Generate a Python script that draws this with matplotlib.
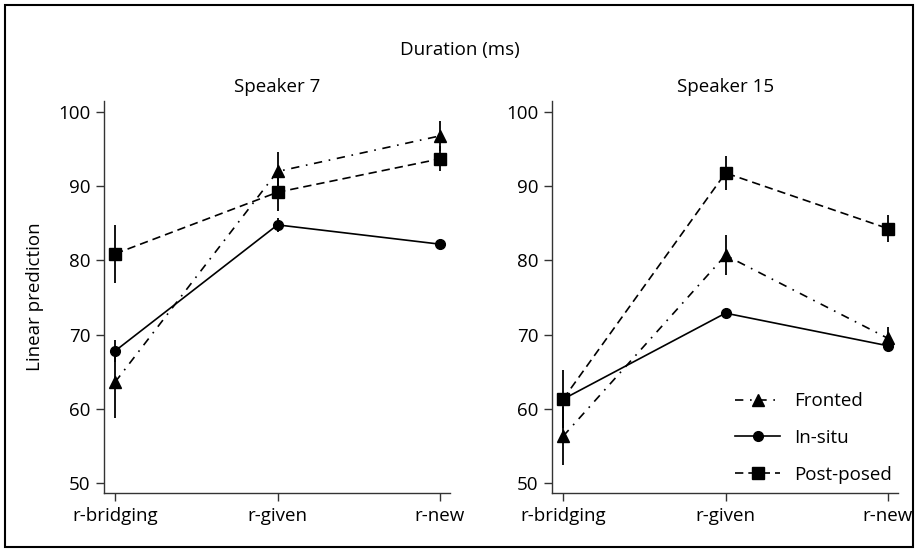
import numpy as np
import matplotlib.pyplot as plt
from matplotlib.patches import Rectangle

plt.rcParams['font.family'] = ['Open Sans', 'DejaVu Sans']

categories = ['r-bridging', 'r-given', 'r-new']
speakers = ['Speaker 7', 'Speaker 15']

# linear predictions and CI half-widths per speaker
fronted = [[63.6, 92.0, 96.8], [56.3, 80.7, 69.5]]
fronted_err = [[4.8, 2.6, 2.0], [3.9, 2.7, 1.5]]
insitu = [[67.8, 84.8, 82.2], [61.3, 72.9, 68.5]]
insitu_err = [[1.5, 0.9, 0.7], [0.9, 0.7, 0.6]]
postposed = [[80.9, 89.2, 93.7], [61.3, 91.8, 84.3]]
postposed_err = [[3.9, 2.5, 1.7], [3.9, 2.3, 1.8]]

series = [
    ('Fronted', fronted, fronted_err, '^', 9, (0, (5, 4, 1, 4))),
    ('In-situ', insitu, insitu_err, 'o', 7, '-'),
    ('Post-posed', postposed, postposed_err, 's', 8.5, (0, (5, 3))),
]

fs = 13.5

fig = plt.figure(figsize=(9.19, 5.55), dpi=100)
axes = [fig.add_axes([0.1132, 0.1117, 0.3765, 0.7063]),
        fig.add_axes([0.6007, 0.1117, 0.3765, 0.7063])]

x = np.arange(len(categories))
for i, ax in enumerate(axes):
    for label, vals, errs, mk, ms, ls in series:
        ax.errorbar(x, vals[i], yerr=errs[i], fmt='none', ecolor='black',
                    elinewidth=1.3, capsize=0)
        ax.plot(x, vals[i], color='black', linestyle=ls, linewidth=1.2,
                marker=mk, markersize=ms, label=label)
    ax.set_xlim(-0.068, 2.062)
    ax.set_ylim(48.65, 101.5)
    ax.set_xticks(x)
    ax.set_xticklabels(categories)
    ax.set_yticks([50, 60, 70, 80, 90, 100])
    ax.spines['top'].set_visible(False)
    ax.spines['right'].set_visible(False)
    for s in ['left', 'bottom']:
        ax.spines[s].set_color('#333333')
        ax.spines[s].set_linewidth(1.0)
    ax.tick_params(direction='out', length=6, width=1, color='#333333',
                   labelsize=fs, pad=4)

axes[0].set_ylabel('Linear prediction', fontsize=fs, labelpad=10)

leg = axes[1].legend(loc='lower left', bbox_to_anchor=(0.529, 0.024),
                     frameon=False, fontsize=fs, handlelength=2.4,
                     labelspacing=1.0, handletextpad=0.75,
                     borderpad=0, borderaxespad=0)

fig.text(460 / 919, 1 - 50 / 555, 'Duration (ms)', ha='center', va='center',
         fontsize=fs)
fig.text(277 / 919, 1 - 87 / 555, speakers[0], ha='center', va='center',
         fontsize=fs)
fig.text(726 / 919, 1 - 87 / 555, speakers[1], ha='center', va='center',
         fontsize=fs)

# outer frame
fig.patches.append(Rectangle((5 / 919, 8 / 555), 908 / 919, 542 / 555,
                             transform=fig.transFigure, fill=False,
                             edgecolor='black', linewidth=1.5))

fig.savefig('out.png', dpi=100)
